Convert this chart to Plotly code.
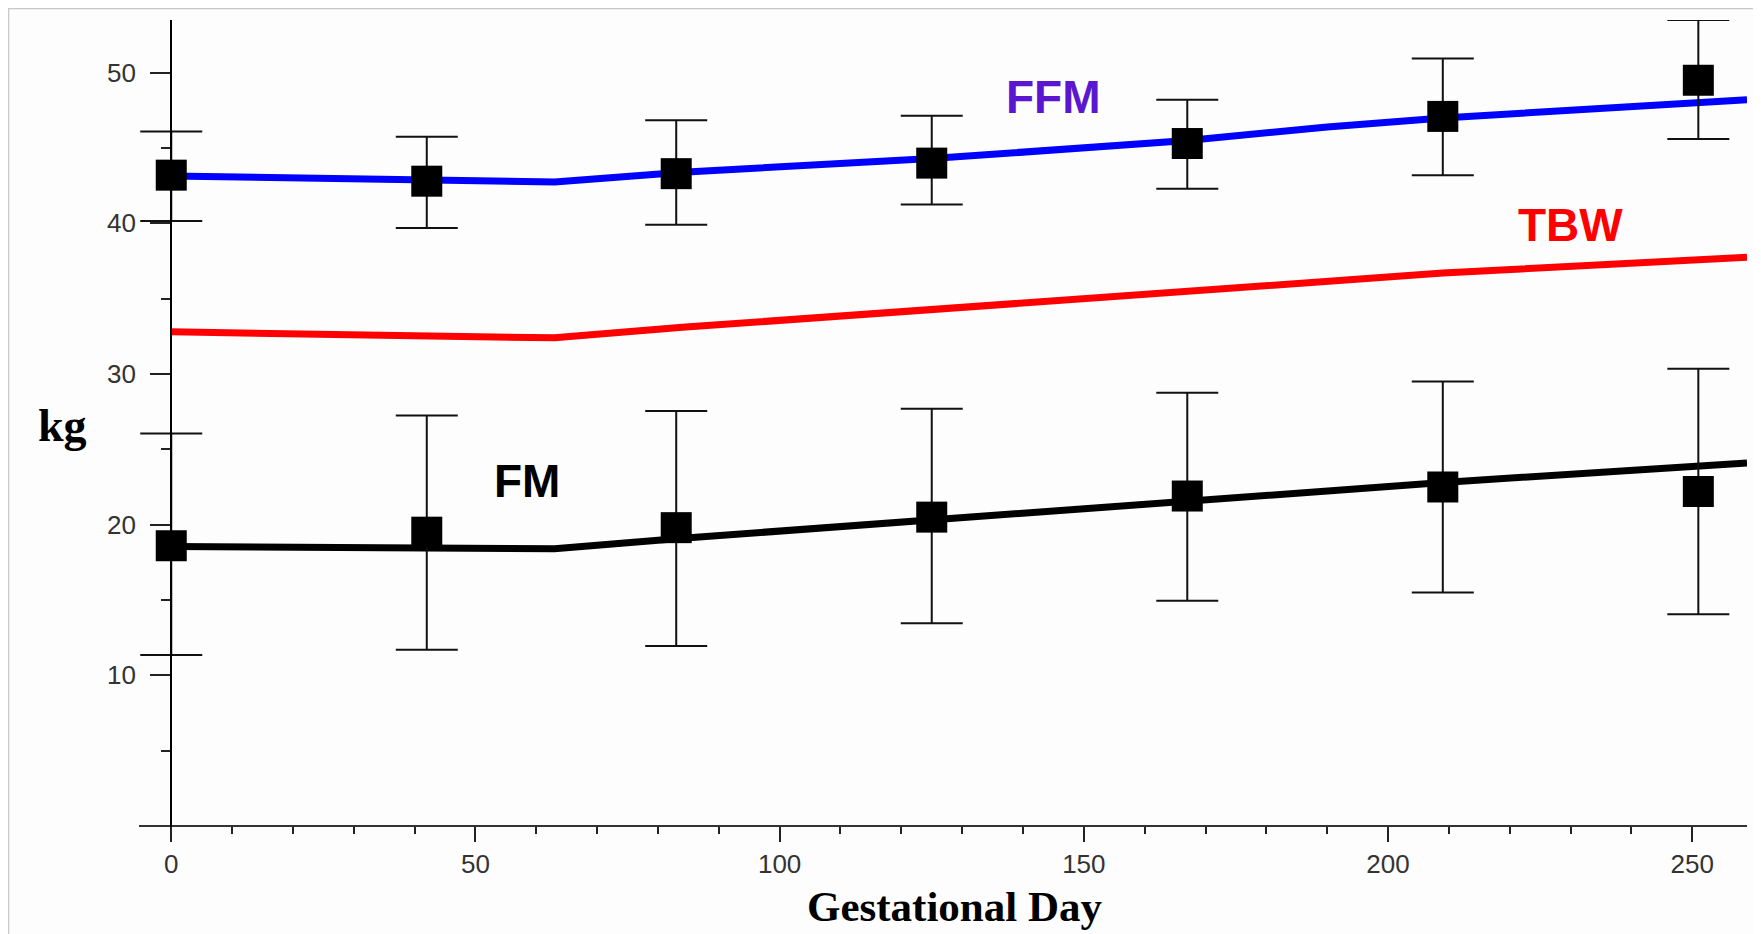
import plotly.graph_objects as go

# ---- data ----
obs_days = [0, 42, 83, 125, 167, 209, 251]

ffm_mean = [43.2, 42.8, 43.3, 44.0, 45.3, 47.1, 49.5]
ffm_upper = [46.1, 45.75, 46.85, 47.15, 48.2, 50.95, 53.5]
ffm_lower = [40.15, 39.7, 39.9, 41.25, 42.3, 43.2, 45.6]

fm_mean = [18.6, 19.5, 19.8, 20.5, 21.9, 22.5, 22.2]
fm_upper = [26.05, 27.25, 27.55, 27.7, 28.75, 29.5, 30.35]
fm_lower = [11.35, 11.7, 11.95, 13.45, 14.95, 15.5, 14.05]

model_days = [0, 20, 63, 84, 125, 167, 190, 209, 259]
ffm_model = [43.15, 43.05, 42.75, 43.4, 44.3, 45.5, 46.4, 47.0, 48.2]
tbw_model = [32.8, 32.7, 32.4, 33.1, 34.3, 35.5, 36.2, 36.7, 37.75]
fm_model = [18.55, 18.5, 18.4, 19.1, 20.3, 21.5, 22.2, 22.8, 24.1]

x_ticks = [0, 50, 100, 150, 200, 250]
y_ticks = [10, 20, 30, 40, 50]
y_minor = [5, 15, 25, 35, 45]

labels = ["FFM", "TBW", "FM"]
label_x = [145, 230, 58.5]
label_y = [48.4, 39.9, 22.9]
label_colors = ["#5B17D0", "#FF0000", "#000000"]

X_RANGE = [-5.3, 259]
Y_RANGE = [-1, 53.5]

fig = go.Figure()

fig.add_trace(go.Scatter(x=model_days, y=tbw_model, mode="lines",
                         line=dict(color="#FF0000", width=7), showlegend=False))
fig.add_trace(go.Scatter(x=model_days, y=ffm_model, mode="lines",
                         line=dict(color="#0000FF", width=7), showlegend=False))
fig.add_trace(go.Scatter(x=model_days, y=fm_model, mode="lines",
                         line=dict(color="#000000", width=7), showlegend=False))


def err_trace(mean, up, lo):
    return go.Scatter(
        x=obs_days, y=mean, mode="markers",
        marker=dict(symbol="square", size=31, color="#000000"),
        error_y=dict(type="data", symmetric=False,
                     array=[u - m for u, m in zip(up, mean)],
                     arrayminus=[m - l for m, l in zip(mean, lo)],
                     color="#111111", thickness=2, width=31),
        showlegend=False)


fig.add_trace(err_trace(ffm_mean, ffm_upper, ffm_lower))
fig.add_trace(err_trace(fm_mean, fm_upper, fm_lower))

for t, x, y, c in zip(labels, label_x, label_y, label_colors):
    fig.add_annotation(x=x, y=y, xref="x", yref="y", text=f"<b>{t}</b>",
                       showarrow=False, font=dict(family="Liberation Sans", size=46, color=c))

fig.add_annotation(x=-0.064, y=26.6, xref="paper", yref="y", text="<b>kg</b>",
                   showarrow=False, font=dict(family="Liberation Serif", size=46, color="#000"))
fig.add_annotation(x=128.8, y=-0.111, xref="x", yref="paper", text="<b>Gestational Day</b>",
                   showarrow=False, font=dict(family="Liberation Serif", size=43, color="#000"))

ypos = (0 - X_RANGE[0]) / (X_RANGE[1] - X_RANGE[0])
xpos = (0 - Y_RANGE[0]) / (Y_RANGE[1] - Y_RANGE[0])

tickfont = dict(family="Liberation Sans", size=26, color="#333333")

# the page body adds an 8px margin, so the figure is sized to fit inside the window
fig.update_layout(
    width=1753, height=926,
    margin=dict(l=131, r=14, t=12, b=93),
    paper_bgcolor="#FDFDFD", plot_bgcolor="#FDFDFD",
    xaxis=dict(range=X_RANGE, anchor="free", position=xpos, showgrid=False, zeroline=False,
               showline=True, linecolor="#333333", linewidth=2,
               tickmode="array", tickvals=x_ticks, ticks="outside", ticklen=15, tickwidth=2,
               tickcolor="#222222", tickfont=tickfont, automargin=False,
               minor=dict(dtick=10, tick0=0, ticks="outside", ticklen=7, tickwidth=2,
                          tickcolor="#222222", showgrid=False)),
    yaxis=dict(range=Y_RANGE, anchor="free", position=ypos, showgrid=False, zeroline=False,
               showline=True, linecolor="#000000", linewidth=2,
               tickmode="array", tickvals=y_ticks, ticks="outside", ticklen=20, tickwidth=2,
               tickcolor="#222222", tickfont=tickfont, automargin=False,
               ticklabelstandoff=9,
               minor=dict(tickmode="array", tickvals=y_minor, ticks="outside", ticklen=9,
                          tickwidth=2, tickcolor="#222222", showgrid=False)),
)

# frame decoration of the original picture (top border line)
fig.add_shape(type="line", xref="paper", yref="paper",
              x0=-131 / 1608, x1=1.01, y0=1 + 11.5 / 821, y1=1 + 11.5 / 821,
              line=dict(color="#C8C8C8", width=1.5), layer="below")
fig.add_shape(type="line", xref="paper", yref="paper",
              x0=-130.5 / 1608, x1=-130.5 / 1608, y0=-0.12, y1=1 + 11.5 / 821,
              line=dict(color="#C8C8C8", width=1.5), layer="below")

fig.write_html("out.html")
